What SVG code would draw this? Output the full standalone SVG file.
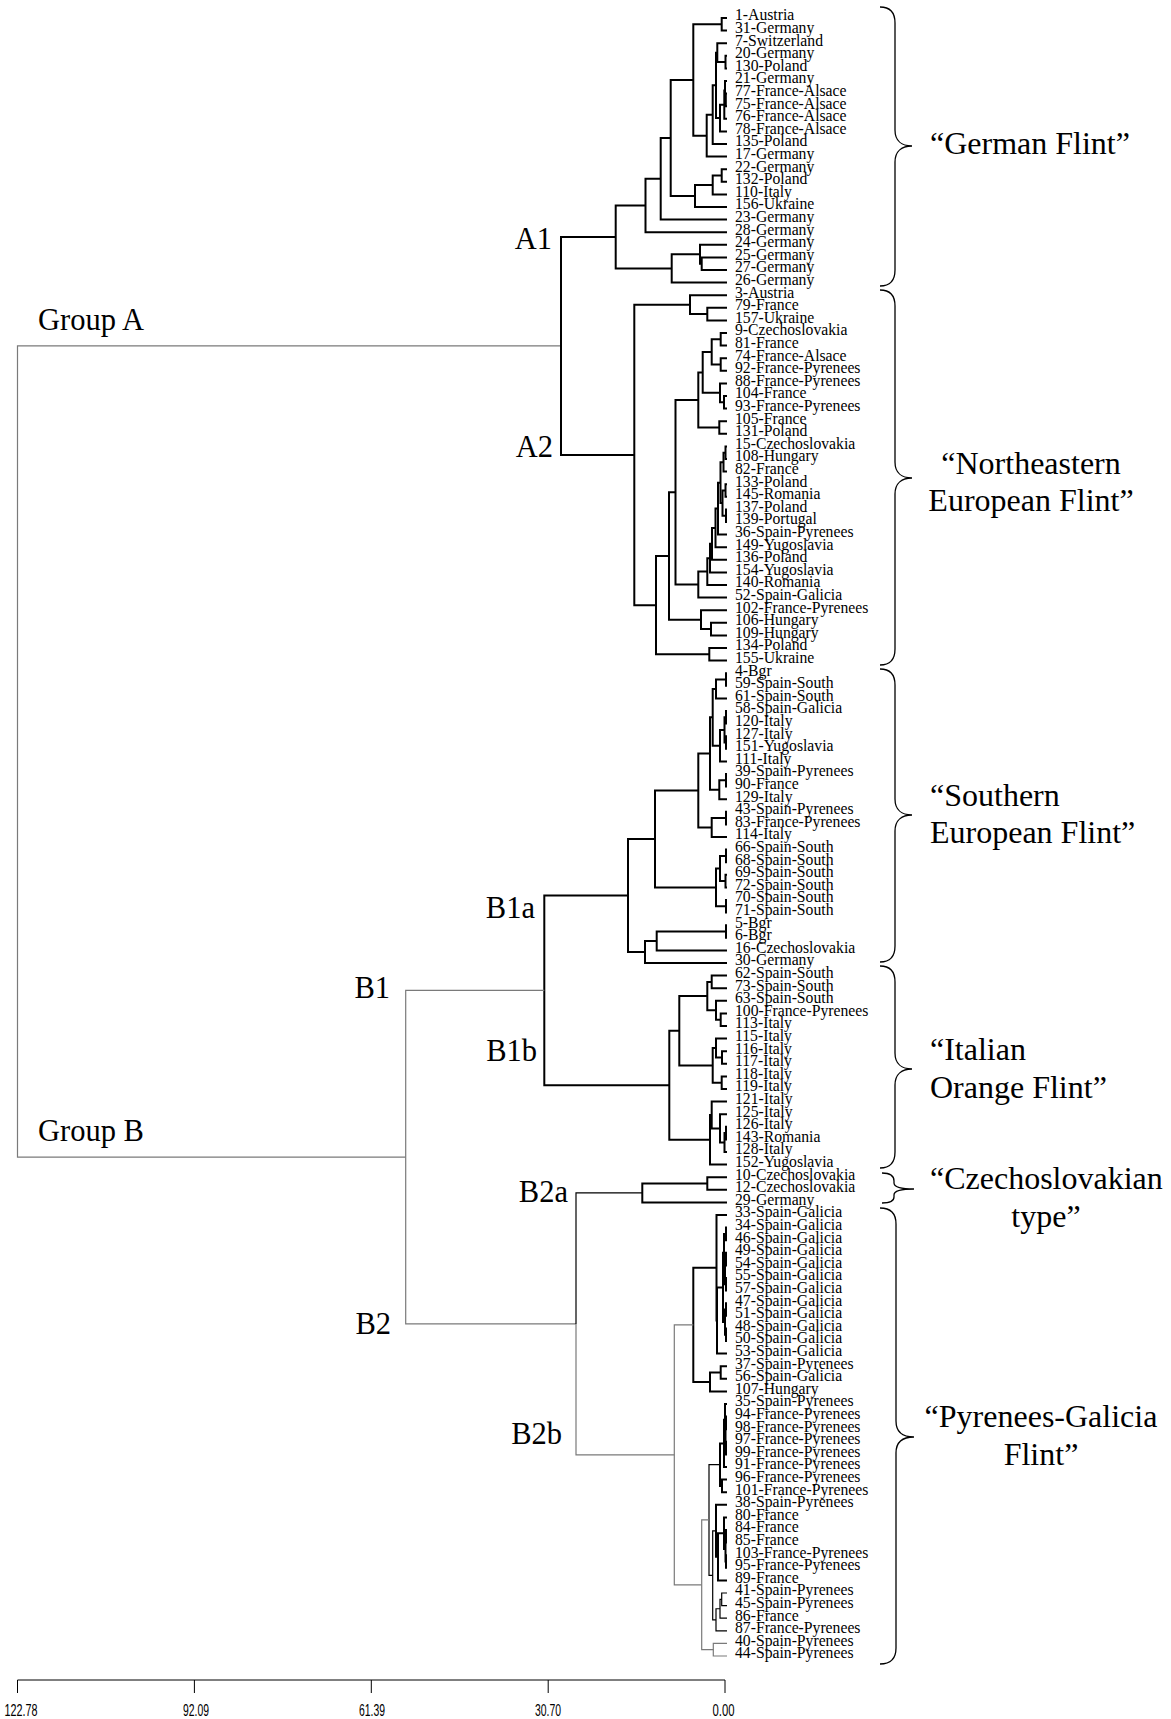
<svg xmlns="http://www.w3.org/2000/svg" width="1171" height="1719" viewBox="0 0 1171 1719">
<style>
.k{stroke:#000;stroke-width:2;fill:none}
.t{stroke:#000;stroke-width:1.2;fill:none}
.g{stroke:#7a7a7a;stroke-width:1.2;fill:none}
.br{stroke:#000;stroke-width:1.3;fill:none}
.ax{stroke:#000;stroke-width:1;fill:none}
text{font-family:"Liberation Serif","Times New Roman",serif;fill:#000}
.lf{font-size:15.7px}
.big{font-size:30.5px}
.fl{font-size:32px}
.axl{font-family:"Liberation Sans",Arial,sans-serif;font-size:17px;text-anchor:middle}
</style>
<rect width="1171" height="1719" fill="#fff"/>
<g id="connectors">
<path class="g" d="M561 345.93H17.5V1157.14H405.7"/>
<path class="k" d="M615.7 236.96H561V454.89H634.3"/>
<path class="k" d="M727 18H721.7V30.6H727"/>
<path class="k" d="M727 55.8H725.5V68.4H727"/>
<path class="k" d="M727 43.2H717.3V62.1H725.5"/>
<path class="k" d="M727 93.6H725.8V106.2H727"/>
<path class="k" d="M727 81H725V99.9H725.8"/>
<path class="k" d="M725 90.45H724.3V118.8H727"/>
<path class="k" d="M724.3 104.63H720V131.4H727"/>
<path class="k" d="M717.3 52.65H716V118H720"/>
<path class="k" d="M716 85.33H712.7V144H727"/>
<path class="k" d="M712.7 114.66H706.7V156.6H727"/>
<path class="k" d="M721.7 24.3H693.3V135.63H706.7"/>
<path class="k" d="M727 169.2H721.7V181.8H727"/>
<path class="k" d="M721.7 175.5H712.7V194.4H727"/>
<path class="k" d="M712.7 184.95H695V207H727"/>
<path class="k" d="M693.3 79.97H670.7V195.98H695"/>
<path class="k" d="M670.7 137.98H660.7V219.6H727"/>
<path class="k" d="M660.7 178.79H645.5V232.2H727"/>
<path class="k" d="M727 257.4H701.7V270H727"/>
<path class="k" d="M727 244.8H700V263.7H701.7"/>
<path class="k" d="M700 254.25H671.7V282.6H727"/>
<path class="k" d="M645.5 205.5H615.7V268.43H671.7"/>
<path class="k" d="M727 307.8H707.3V320.4H727"/>
<path class="k" d="M727 295.2H690V314.1H707.3"/>
<path class="k" d="M727 333H720.7V345.6H727"/>
<path class="k" d="M727 358.2H720.7V370.8H727"/>
<path class="k" d="M720.7 339.3H711.7V364.5H720.7"/>
<path class="k" d="M727 396H724V408.6H727"/>
<path class="k" d="M727 383.4H720V402.3H724"/>
<path class="k" d="M711.7 351.9H702.7V392.85H720"/>
<path class="k" d="M727 421.2H719.3V433.8H727"/>
<path class="k" d="M702.7 372.38H698.3V427.5H719.3"/>
<path class="k" d="M727 446.4H725.5V459H727"/>
<path class="k" d="M725.5 452.7H723.5V471.6H727"/>
<path class="k" d="M727 484.2H725.5V496.8H727"/>
<path class="k" d="M727 509.4H726V522H727"/>
<path class="k" d="M725.5 490.5H722.5V515.7H726"/>
<path class="k" d="M723.5 462.15H720.5V503.1H722.5"/>
<path class="k" d="M720.5 482.63H718V534.6H727"/>
<path class="k" d="M718 508.6H715.5V547.2H727"/>
<path class="k" d="M715.5 527.9H712V559.8H727"/>
<path class="k" d="M712 543.85H710V572.4H727"/>
<path class="k" d="M710 558.13H707.3V585H727"/>
<path class="k" d="M707.3 571.56H698.3V597.6H727"/>
<path class="k" d="M698.3 399.94H675.5V584.58H698.3"/>
<path class="k" d="M727 622.8H711V635.4H727"/>
<path class="k" d="M727 610.2H701V629.1H711"/>
<path class="k" d="M675.5 492.26H669V619.65H701"/>
<path class="k" d="M727 648H709.3V660.6H727"/>
<path class="k" d="M669 555.96H656V654.3H709.3"/>
<path class="k" d="M690 304.65H634.3V605.13H656"/>
<path class="k" d="M727 673.2H726V685.8H727"/>
<path class="k" d="M726 679.5H716V698.4H727"/>
<path class="k" d="M727 711H726V723.6H727"/>
<path class="k" d="M727 736.2H726V748.8H727"/>
<path class="k" d="M726 717.3H724.5V742.5H726"/>
<path class="k" d="M724.5 729.9H720V761.4H727"/>
<path class="k" d="M716 688.95H712.7V745.65H720"/>
<path class="k" d="M727 774H726V786.6H727"/>
<path class="k" d="M726 780.3H719.3V799.2H727"/>
<path class="k" d="M712.7 717.3H710V789.75H719.3"/>
<path class="k" d="M727 811.8H726V824.4H727"/>
<path class="k" d="M726 818.1H711.7V837H727"/>
<path class="k" d="M710 753.53H698.3V827.55H711.7"/>
<path class="k" d="M727 849.6H726V862.2H727"/>
<path class="k" d="M727 874.8H725.5V887.4H727"/>
<path class="k" d="M726 855.9H720V881.1H725.5"/>
<path class="k" d="M727 900H726V912.6H727"/>
<path class="k" d="M720 868.5H716V906.3H726"/>
<path class="k" d="M698.3 790.54H655V887.4H716"/>
<path class="k" d="M727 925.2H726V937.8H727"/>
<path class="k" d="M726 931.5H656.7V950.4H727"/>
<path class="k" d="M656.7 940.95H645V963H727"/>
<path class="k" d="M655 838.97H628V951.98H645"/>
<path class="k" d="M727 975.6H711.7V988.2H727"/>
<path class="k" d="M727 1013.4H720.7V1026H727"/>
<path class="k" d="M727 1000.8H716V1019.7H720.7"/>
<path class="k" d="M711.7 981.9H707.3V1010.25H716"/>
<path class="k" d="M727 1051.2H722V1063.8H727"/>
<path class="k" d="M727 1038.6H716V1057.5H722"/>
<path class="k" d="M727 1076.4H721.7V1089H727"/>
<path class="k" d="M716 1048.05H712.7V1082.7H721.7"/>
<path class="k" d="M707.3 996.08H679.3V1065.38H712.7"/>
<path class="k" d="M727 1126.8H726V1139.4H727"/>
<path class="k" d="M726 1133.1H724.5V1152H727"/>
<path class="k" d="M727 1114.2H720V1142.55H724.5"/>
<path class="k" d="M727 1101.6H711.7V1128.38H720"/>
<path class="k" d="M711.7 1114.99H710V1164.6H727"/>
<path class="k" d="M679.3 1030.73H669.3V1139.8H710"/>
<path class="k" d="M628 895.47H544.3V1085.26H669.3"/>
<path class="g" d="M544.3 990.37H405.7V1323.9H576"/>
<path class="g" d="M576 1323.9V1454.85H674.3"/>
<path class="t" d="M642.3 1192.95H576V1323.9"/>
<path class="k" d="M727 1177.2H707.3V1189.8H727"/>
<path class="k" d="M707.3 1183.5H642.3V1202.4H727"/>
<path class="k" d="M727 1227.6H726V1240.2H727"/>
<path class="k" d="M727 1252.8H726V1265.4H727"/>
<path class="k" d="M727 1278H726V1290.6H727"/>
<path class="k" d="M726 1259.1H725V1284.3H726"/>
<path class="k" d="M726 1233.9H724V1271.7H725"/>
<path class="k" d="M727 1303.2H726V1315.8H727"/>
<path class="k" d="M727 1328.4H726V1341H727"/>
<path class="k" d="M726 1309.5H725V1334.7H726"/>
<path class="k" d="M724 1252.8H723V1322.1H725"/>
<path class="k" d="M723 1287.45H717V1353.6H727"/>
<path class="k" d="M727 1215H716.5V1320.53H717"/>
<path class="k" d="M727 1366.2H720.7V1378.8H727"/>
<path class="k" d="M720.7 1372.5H710V1391.4H727"/>
<path class="k" d="M716.5 1267.76H693.3V1381.95H710"/>
<path class="g" d="M693.3 1324.86H674.3V1584.83H701.7"/>
<path class="k" d="M727 1416.6H726V1429.2H727"/>
<path class="k" d="M727 1441.8H726V1454.4H727"/>
<path class="k" d="M726 1422.9H725.5V1448.1H726"/>
<path class="k" d="M727 1404H725V1435.5H725.5"/>
<path class="k" d="M725 1419.75H724V1467H727"/>
<path class="k" d="M727 1479.6H722V1492.2H727"/>
<path class="k" d="M724 1443.38H720V1485.9H722"/>
<path class="k" d="M727 1530H726V1542.6H727"/>
<path class="k" d="M727 1555.2H726V1567.8H727"/>
<path class="k" d="M726 1536.3H725.5V1561.5H726"/>
<path class="k" d="M727 1517.4H724V1548.9H725.5"/>
<path class="k" d="M724 1533.15H718V1580.4H727"/>
<path class="k" d="M727 1504.8H716V1556.78H718"/>
<path class="t" d="M727 1593H721.7V1605.6H727"/>
<path class="t" d="M721.7 1599.3H720V1618.2H727"/>
<path class="t" d="M720 1608.75H716V1630.8H727"/>
<path class="t" d="M716 1530.79H712.7V1619.78H716"/>
<path class="t" d="M720 1464.64H709V1575.28H712.7"/>
<path class="g" d="M727 1643.4H713.3V1656H727"/>
<path class="g" d="M709 1519.96H701.7V1649.7H713.3"/>
</g>
<g id="leaves" class="lf">
<g id="leaf-0"><text x="735" y="20.4">1-Austria</text></g>
<g id="leaf-1"><text x="735" y="33">31-Germany</text></g>
<g id="leaf-2"><text x="735" y="45.6">7-Switzerland</text></g>
<g id="leaf-3"><text x="735" y="58.2">20-Germany</text></g>
<g id="leaf-4"><text x="735" y="70.8">130-Poland</text></g>
<g id="leaf-5"><text x="735" y="83.4">21-Germany</text></g>
<g id="leaf-6"><text x="735" y="96">77-France-Alsace</text></g>
<g id="leaf-7"><text x="735" y="108.6">75-France-Alsace</text></g>
<g id="leaf-8"><text x="735" y="121.2">76-France-Alsace</text></g>
<g id="leaf-9"><text x="735" y="133.8">78-France-Alsace</text></g>
<g id="leaf-10"><text x="735" y="146.4">135-Poland</text></g>
<g id="leaf-11"><text x="735" y="159">17-Germany</text></g>
<g id="leaf-12"><text x="735" y="171.6">22-Germany</text></g>
<g id="leaf-13"><text x="735" y="184.2">132-Poland</text></g>
<g id="leaf-14"><text x="735" y="196.8">110-Italy</text></g>
<g id="leaf-15"><text x="735" y="209.4">156-Ukraine</text></g>
<g id="leaf-16"><text x="735" y="222">23-Germany</text></g>
<g id="leaf-17"><text x="735" y="234.6">28-Germany</text></g>
<g id="leaf-18"><text x="735" y="247.2">24-Germany</text></g>
<g id="leaf-19"><text x="735" y="259.8">25-Germany</text></g>
<g id="leaf-20"><text x="735" y="272.4">27-Germany</text></g>
<g id="leaf-21"><text x="735" y="285">26-Germany</text></g>
<g id="leaf-22"><text x="735" y="297.6">3-Austria</text></g>
<g id="leaf-23"><text x="735" y="310.2">79-France</text></g>
<g id="leaf-24"><text x="735" y="322.8">157-Ukraine</text></g>
<g id="leaf-25"><text x="735" y="335.4">9-Czechoslovakia</text></g>
<g id="leaf-26"><text x="735" y="348">81-France</text></g>
<g id="leaf-27"><text x="735" y="360.6">74-France-Alsace</text></g>
<g id="leaf-28"><text x="735" y="373.2">92-France-Pyrenees</text></g>
<g id="leaf-29"><text x="735" y="385.8">88-France-Pyrenees</text></g>
<g id="leaf-30"><text x="735" y="398.4">104-France</text></g>
<g id="leaf-31"><text x="735" y="411">93-France-Pyrenees</text></g>
<g id="leaf-32"><text x="735" y="423.6">105-France</text></g>
<g id="leaf-33"><text x="735" y="436.2">131-Poland</text></g>
<g id="leaf-34"><text x="735" y="448.8">15-Czechoslovakia</text></g>
<g id="leaf-35"><text x="735" y="461.4">108-Hungary</text></g>
<g id="leaf-36"><text x="735" y="474">82-France</text></g>
<g id="leaf-37"><text x="735" y="486.6">133-Poland</text></g>
<g id="leaf-38"><text x="735" y="499.2">145-Romania</text></g>
<g id="leaf-39"><text x="735" y="511.8">137-Poland</text></g>
<g id="leaf-40"><text x="735" y="524.4">139-Portugal</text></g>
<g id="leaf-41"><text x="735" y="537">36-Spain-Pyrenees</text></g>
<g id="leaf-42"><text x="735" y="549.6">149-Yugoslavia</text></g>
<g id="leaf-43"><text x="735" y="562.2">136-Poland</text></g>
<g id="leaf-44"><text x="735" y="574.8">154-Yugoslavia</text></g>
<g id="leaf-45"><text x="735" y="587.4">140-Romania</text></g>
<g id="leaf-46"><text x="735" y="600">52-Spain-Galicia</text></g>
<g id="leaf-47"><text x="735" y="612.6">102-France-Pyrenees</text></g>
<g id="leaf-48"><text x="735" y="625.2">106-Hungary</text></g>
<g id="leaf-49"><text x="735" y="637.8">109-Hungary</text></g>
<g id="leaf-50"><text x="735" y="650.4">134-Poland</text></g>
<g id="leaf-51"><text x="735" y="663">155-Ukraine</text></g>
<g id="leaf-52"><text x="735" y="675.6">4-Bgr</text></g>
<g id="leaf-53"><text x="735" y="688.2">59-Spain-South</text></g>
<g id="leaf-54"><text x="735" y="700.8">61-Spain-South</text></g>
<g id="leaf-55"><text x="735" y="713.4">58-Spain-Galicia</text></g>
<g id="leaf-56"><text x="735" y="726">120-Italy</text></g>
<g id="leaf-57"><text x="735" y="738.6">127-Italy</text></g>
<g id="leaf-58"><text x="735" y="751.2">151-Yugoslavia</text></g>
<g id="leaf-59"><text x="735" y="763.8">111-Italy</text></g>
<g id="leaf-60"><text x="735" y="776.4">39-Spain-Pyrenees</text></g>
<g id="leaf-61"><text x="735" y="789">90-France</text></g>
<g id="leaf-62"><text x="735" y="801.6">129-Italy</text></g>
<g id="leaf-63"><text x="735" y="814.2">43-Spain-Pyrenees</text></g>
<g id="leaf-64"><text x="735" y="826.8">83-France-Pyrenees</text></g>
<g id="leaf-65"><text x="735" y="839.4">114-Italy</text></g>
<g id="leaf-66"><text x="735" y="852">66-Spain-South</text></g>
<g id="leaf-67"><text x="735" y="864.6">68-Spain-South</text></g>
<g id="leaf-68"><text x="735" y="877.2">69-Spain-South</text></g>
<g id="leaf-69"><text x="735" y="889.8">72-Spain-South</text></g>
<g id="leaf-70"><text x="735" y="902.4">70-Spain-South</text></g>
<g id="leaf-71"><text x="735" y="915">71-Spain-South</text></g>
<g id="leaf-72"><text x="735" y="927.6">5-Bgr</text></g>
<g id="leaf-73"><text x="735" y="940.2">6-Bgr</text></g>
<g id="leaf-74"><text x="735" y="952.8">16-Czechoslovakia</text></g>
<g id="leaf-75"><text x="735" y="965.4">30-Germany</text></g>
<g id="leaf-76"><text x="735" y="978">62-Spain-South</text></g>
<g id="leaf-77"><text x="735" y="990.6">73-Spain-South</text></g>
<g id="leaf-78"><text x="735" y="1003.2">63-Spain-South</text></g>
<g id="leaf-79"><text x="735" y="1015.8">100-France-Pyrenees</text></g>
<g id="leaf-80"><text x="735" y="1028.4">113-Italy</text></g>
<g id="leaf-81"><text x="735" y="1041">115-Italy</text></g>
<g id="leaf-82"><text x="735" y="1053.6">116-Italy</text></g>
<g id="leaf-83"><text x="735" y="1066.2">117-Italy</text></g>
<g id="leaf-84"><text x="735" y="1078.8">118-Italy</text></g>
<g id="leaf-85"><text x="735" y="1091.4">119-Italy</text></g>
<g id="leaf-86"><text x="735" y="1104">121-Italy</text></g>
<g id="leaf-87"><text x="735" y="1116.6">125-Italy</text></g>
<g id="leaf-88"><text x="735" y="1129.2">126-Italy</text></g>
<g id="leaf-89"><text x="735" y="1141.8">143-Romania</text></g>
<g id="leaf-90"><text x="735" y="1154.4">128-Italy</text></g>
<g id="leaf-91"><text x="735" y="1167">152-Yugoslavia</text></g>
<g id="leaf-92"><text x="735" y="1179.6">10-Czechoslovakia</text></g>
<g id="leaf-93"><text x="735" y="1192.2">12-Czechoslovakia</text></g>
<g id="leaf-94"><text x="735" y="1204.8">29-Germany</text></g>
<g id="leaf-95"><text x="735" y="1217.4">33-Spain-Galicia</text></g>
<g id="leaf-96"><text x="735" y="1230">34-Spain-Galicia</text></g>
<g id="leaf-97"><text x="735" y="1242.6">46-Spain-Galicia</text></g>
<g id="leaf-98"><text x="735" y="1255.2">49-Spain-Galicia</text></g>
<g id="leaf-99"><text x="735" y="1267.8">54-Spain-Galicia</text></g>
<g id="leaf-100"><text x="735" y="1280.4">55-Spain-Galicia</text></g>
<g id="leaf-101"><text x="735" y="1293">57-Spain-Galicia</text></g>
<g id="leaf-102"><text x="735" y="1305.6">47-Spain-Galicia</text></g>
<g id="leaf-103"><text x="735" y="1318.2">51-Spain-Galicia</text></g>
<g id="leaf-104"><text x="735" y="1330.8">48-Spain-Galicia</text></g>
<g id="leaf-105"><text x="735" y="1343.4">50-Spain-Galicia</text></g>
<g id="leaf-106"><text x="735" y="1356">53-Spain-Galicia</text></g>
<g id="leaf-107"><text x="735" y="1368.6">37-Spain-Pyrenees</text></g>
<g id="leaf-108"><text x="735" y="1381.2">56-Spain-Galicia</text></g>
<g id="leaf-109"><text x="735" y="1393.8">107-Hungary</text></g>
<g id="leaf-110"><text x="735" y="1406.4">35-Spain-Pyrenees</text></g>
<g id="leaf-111"><text x="735" y="1419">94-France-Pyrenees</text></g>
<g id="leaf-112"><text x="735" y="1431.6">98-France-Pyrenees</text></g>
<g id="leaf-113"><text x="735" y="1444.2">97-France-Pyrenees</text></g>
<g id="leaf-114"><text x="735" y="1456.8">99-France-Pyrenees</text></g>
<g id="leaf-115"><text x="735" y="1469.4">91-France-Pyrenees</text></g>
<g id="leaf-116"><text x="735" y="1482">96-France-Pyrenees</text></g>
<g id="leaf-117"><text x="735" y="1494.6">101-France-Pyrenees</text></g>
<g id="leaf-118"><text x="735" y="1507.2">38-Spain-Pyrenees</text></g>
<g id="leaf-119"><text x="735" y="1519.8">80-France</text></g>
<g id="leaf-120"><text x="735" y="1532.4">84-France</text></g>
<g id="leaf-121"><text x="735" y="1545">85-France</text></g>
<g id="leaf-122"><text x="735" y="1557.6">103-France-Pyrenees</text></g>
<g id="leaf-123"><text x="735" y="1570.2">95-France-Pyrenees</text></g>
<g id="leaf-124"><text x="735" y="1582.8">89-France</text></g>
<g id="leaf-125"><text x="735" y="1595.4">41-Spain-Pyrenees</text></g>
<g id="leaf-126"><text x="735" y="1608">45-Spain-Pyrenees</text></g>
<g id="leaf-127"><text x="735" y="1620.6">86-France</text></g>
<g id="leaf-128"><text x="735" y="1633.2">87-France-Pyrenees</text></g>
<g id="leaf-129"><text x="735" y="1645.8">40-Spain-Pyrenees</text></g>
<g id="leaf-130"><text x="735" y="1658.4">44-Spain-Pyrenees</text></g>
</g>
<g id="cluster-labels" class="big">
<g id="lbl-groupA"><text x="38" y="330">Group A</text></g>
<g id="lbl-groupB"><text x="38" y="1141">Group B</text></g>
<g id="lbl-A1"><text x="552" y="249" text-anchor="end">A1</text></g>
<g id="lbl-A2"><text x="553" y="457" text-anchor="end">A2</text></g>
<g id="lbl-B1"><text x="390" y="998" text-anchor="end">B1</text></g>
<g id="lbl-B1a"><text x="535" y="918" text-anchor="end">B1a</text></g>
<g id="lbl-B1b"><text x="537" y="1061" text-anchor="end">B1b</text></g>
<g id="lbl-B2"><text x="391" y="1334" text-anchor="end">B2</text></g>
<g id="lbl-B2a"><text x="568" y="1202" text-anchor="end">B2a</text></g>
<g id="lbl-B2b"><text x="562" y="1444" text-anchor="end">B2b</text></g>
</g>
<g id="braces">
<path class="br" d="M880 7C890 7 895 12 895 23V130C895 141 902 146 912 146C902 146 895 151 895 162V270C895 281 890 286 880 286"/>
<path class="br" d="M880 290C890 290 895 295 895 306V462C895 473 902 478 912 478C902 478 895 483 895 494V649C895 660 890 665 880 665"/>
<path class="br" d="M880 669C890 669 895 674 895 685V799C895 810 902 815 912 815C902 815 895 820 895 831V946C895 957 890 962 880 962"/>
<path class="br" d="M880 966C890 966 895 971 895 982V1053C895 1064 902 1069 912 1069C902 1069 895 1074 895 1085V1152C895 1163 890 1168 880 1168"/>
<path class="br" d="M882 1173C890 1173 894 1176 894 1181V1183C894 1187 902 1189 914 1189C902 1189 894 1191 894 1195V1197C894 1201 890 1203 882 1203"/>
<path class="br" d="M880 1208C890 1208 896 1213 896 1224V1421C896 1432 903 1437 914 1437C903 1437 896 1442 896 1453V1648C896 1659 890 1664 880 1664"/>
</g>
<g id="flint-labels" class="fl">
<g id="lbl-german"><text x="930" y="154">“German Flint”</text></g>
<g id="lbl-northeastern"><text x="1031" y="474" text-anchor="middle">“Northeastern</text><text x="1031" y="511" text-anchor="middle">European Flint”</text></g>
<g id="lbl-southern"><text x="930" y="806">“Southern</text><text x="930" y="843">European Flint”</text></g>
<g id="lbl-italian"><text x="930" y="1060">“Italian</text><text x="930" y="1098">Orange Flint”</text></g>
<g id="lbl-czech"><text x="930" y="1189">“Czechoslovakian</text><text x="1046" y="1227" text-anchor="middle">type”</text></g>
<g id="lbl-pyrenees"><text x="1041" y="1427" text-anchor="middle">“Pyrenees-Galicia</text><text x="1041" y="1465" text-anchor="middle">Flint”</text></g>
</g>
<g id="axis">
<path class="ax" d="M17.5 1680H725M17.5 1680V1693M194.4 1680V1693M371.3 1680V1693M548.2 1680V1693M725 1680V1693"/>
<text class="axl" x="21" y="1716" textLength="33" lengthAdjust="spacingAndGlyphs">122.78</text>
<text class="axl" x="196" y="1716" textLength="26" lengthAdjust="spacingAndGlyphs">92.09</text>
<text class="axl" x="372" y="1716" textLength="26" lengthAdjust="spacingAndGlyphs">61.39</text>
<text class="axl" x="548" y="1716" textLength="26" lengthAdjust="spacingAndGlyphs">30.70</text>
<text class="axl" x="723.5" y="1716" textLength="22" lengthAdjust="spacingAndGlyphs">0.00</text>
</g>
</svg>
